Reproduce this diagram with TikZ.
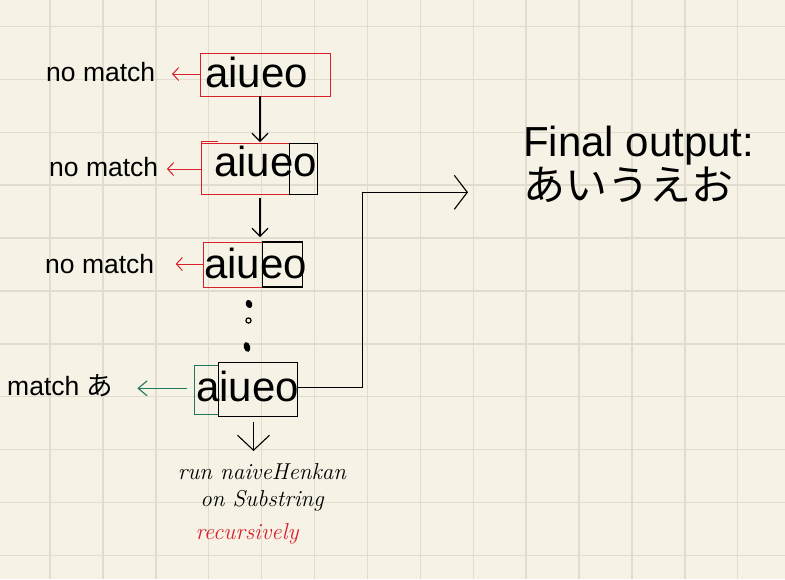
\documentclass[tikz,border=0pt]{standalone}
\usepackage{fontspec}
\setmainfont{Liberation Sans}
\newfontfamily\cjk{Noto Sans CJK JP}
\newfontfamily\hand{Latin Modern Roman}
\usetikzlibrary{arrows.meta}
\definecolor{paper}{HTML}{F6F3E6}
\definecolor{gridc}{HTML}{E0DCCE}
\definecolor{mred}{HTML}{D9202B}
\definecolor{mgreen}{HTML}{22775A}
\tikzset{
  boxr/.style={draw=mred, line width=1pt, inner sep=0pt, rectangle},
  boxk/.style={draw=black, line width=1.1pt, inner sep=0pt, rectangle},
  boxg/.style={draw=mgreen, line width=1pt, inner sep=0pt, rectangle},
  big/.style={inner sep=0pt, anchor=base west, font=\fontsize{42}{48}\selectfont},
  lbl/.style={inner sep=0pt, anchor=base west, font=\fontsize{26.5}{30}\selectfont},
  handw/.style={inner sep=0pt, font=\hand\itshape\fontsize{23}{26}\selectfont},
  redarr/.style={draw=mred, line width=1pt, -{Straight Barb[length=6pt,width=13pt]}},
  grnarr/.style={draw=mgreen, line width=1.1pt, -{Straight Barb[length=9pt,width=15pt]}},
  blkarr/.style={draw=black, line width=1.1pt, -{Straight Barb[length=8pt,width=16pt]}},
}
\begin{document}
\begin{tikzpicture}[x=1pt,y=-1pt]
\fill[paper] (0,0) rectangle (785,579);
\useasboundingbox (0,0) rectangle (785,579);
% grid
\foreach \k in {0,...,13} \draw[gridc, line width=1.4pt] ({50+52.9*\k},0) -- ({50+52.9*\k},579);
\foreach \k in {0,...,10} \draw[gridc, line width=1.4pt] (0,{26.4+52.9*\k}) -- (785,{26.4+52.9*\k});

% step 1
\node[boxr, minimum width=130pt, minimum height=43pt] (b1) at (265,74.5) {};
\node[big] (t1) at (205,87) {aiueo};
\node[lbl] (l1) at (46,81) {no match};
\coordinate (a1) at (172,74);
\draw[redarr] (b1.west |- a1) -- (a1);

% step 2
\node[boxr, minimum width=87.6pt, minimum height=51pt] (b2r) at (245.5,168.8) {};
\node[boxk, minimum width=28pt, minimum height=51pt] (b2k) at (303.3,168.8) {};
\draw[mred, line width=1pt] (b2r.north west) -- ++(0,-1.5) -- ++(17,0);
\node[big] (t2) at (214,176.7) {aiueo};
\node[lbl] (l2) at (49,176) {no match};
\coordinate (a2) at (167,169);
\draw[redarr] (b2r.west |- a2) -- (a2);

% step 3
\node[boxr, minimum width=59pt, minimum height=45pt] (b3r) at (232.5,264.5) {};
\node[boxk, minimum width=40.7pt, minimum height=45pt] (b3k) at (282.4,264.5) {};
\node[big] (t3) at (204,278) {aiueo};
\node[lbl] (l3) at (45,273) {no match};
\coordinate (a3) at (175.7,264);
\draw[redarr] (b3r.west |- a3) -- (a3);

% down arrows
\coordinate (d1s) at (260,96);
\coordinate (d1e) at (260,142);
\draw[blkarr] (d1s) -- (d1e);
\coordinate (d2s) at (260,198);
\coordinate (d2e) at (260,237);
\draw[blkarr] (d2s) -- (d2e);

% dots
\fill[rotate around={20:(249,304)}] (249,304) ellipse (3.2pt and 4.2pt);
\draw[line width=1.2pt] (248.5,320.5) circle (2.6pt);
\fill[rotate around={15:(247,347)}] (247,347) ellipse (3.2pt and 5pt);

% step 4
\node[boxg, minimum width=24pt, minimum height=48.6pt] (b4g) at (206,390) {};
\node[boxk, minimum width=79pt, minimum height=53.3pt] (b4k) at (257.8,389.4) {};
\node[big] (t4) at (196,401.7) {aiueo};
\node[lbl] (l4) at (7,395) {match {\cjk あ}};
\coordinate (g0) at (186.7,388.3);
\coordinate (g1) at (137.3,388.3);
\draw[grnarr] (g0) -- (g1);

% recursion
\coordinate (r0) at (253.5,422);
\coordinate (r1) at (253.5,451);
\draw[line width=1.1pt, -{Straight Barb[length=15pt,width=32pt]}] (r0) -- (r1);
\node[handw] (h1) at (262,472) {run naiveHenkan};
\node[handw] (h2) at (262,501) {on Substring};
\node[handw, text=mred] (h3) at (247,534) {recursively};

% final output
\coordinate (bend) at (362.7,192.3);
\coordinate (outtip) at (468,192.3);
\draw[line width=1.1pt, -{Straight Barb[length=13pt,width=34pt]}] ([yshift=2pt]b4k.east) -| (bend) -- (outtip);
\node[big] (f1) at (523,156) {Final output:};
\node[big] (f2) at (523,200) {\cjk あいうえお};
\end{tikzpicture}
\end{document}
